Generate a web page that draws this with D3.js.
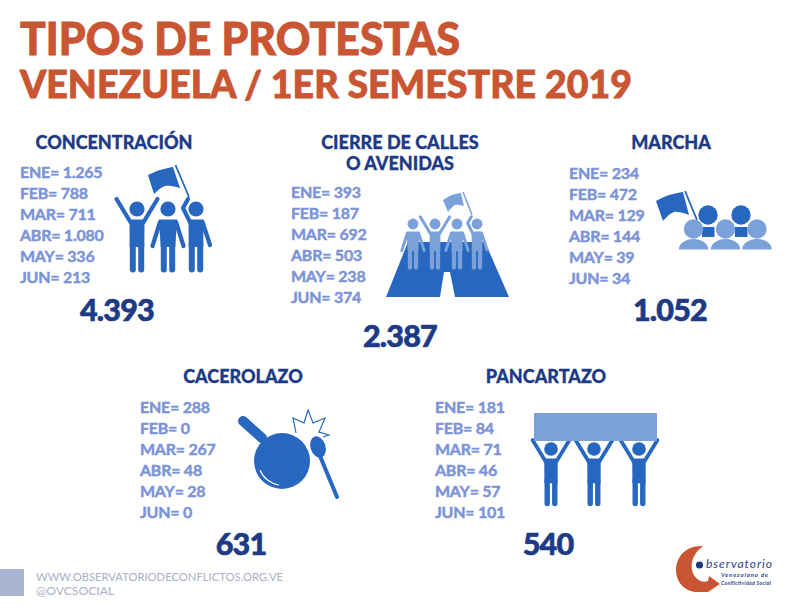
<!DOCTYPE html>
<html>
<head>
<meta charset="utf-8">
<script src="https://cdn.jsdelivr.net/npm/d3@7"></script>
<style>
html, body { margin: 0; padding: 0; background: #fff; }
svg { display: block; }
text { font-family: Lato, "Open Sans", sans-serif; }
</style>
</head>
<body>
<svg id="chart" width="793" height="613"></svg>
<script>
const months = ["ENE", "FEB", "MAR", "ABR", "MAY", "JUN"];
const concentracion = [1265, 788, 711, 1080, 336, 213];
const cierre = [393, 187, 692, 503, 238, 374];
const marcha = [234, 472, 129, 144, 39, 34];
const cacerolazo = [288, 0, 267, 48, 28, 0];
const pancartazo = [181, 84, 71, 46, 57, 101];

const ORANGE = "#c95532", NAVY = "#1c3a86", ROWS = "#7b93d8", DARK = "#2767bf", LIGHT = "#7ba1da";

const svg = d3.select("#chart");
const fmt = d3.formatLocale({ decimal: ",", thousands: ".", grouping: [3], currency: ["", ""] }).format(",d");

function label(x, y, txt, size, fill, anchor = "start", weight = 900, heavy = 0) {
  return svg.append("text")
    .attr("x", x).attr("y", y)
    .attr("text-anchor", anchor)
    .attr("font-size", size)
    .attr("font-weight", weight)
    .attr("fill", fill)
    .attr("stroke", heavy ? fill : "none")
    .attr("stroke-width", heavy)
    .text(txt);
}

// title block
label(20, 55, "TIPOS DE PROTESTAS", 46.5, ORANGE, "start", 900, 0.9).attr("textLength", 440).attr("lengthAdjust", "spacingAndGlyphs");
label(20, 98, "VENEZUELA / 1ER SEMESTRE 2019", 37.5, ORANGE, "start", 900, 0.8).attr("textLength", 612).attr("lengthAdjust", "spacingAndGlyphs");

// one protest type: heading, month rows, total
function panel(title, cx, titleY, values, rowX, rowTop, totalX, totalY) {
  title.forEach((t, i) => label(cx, titleY + i * 21, t, 18, NAVY, "middle", 900, 0.3));
  const y = d3.scalePoint().domain(months).range([rowTop, rowTop + 105]);
  svg.append("g").selectAll("text")
    .data(months)
    .join("text")
    .attr("x", rowX)
    .attr("y", d => y(d))
    .attr("font-size", 16)
    .attr("font-weight", 700)
    .attr("letter-spacing", -0.25)
    .attr("fill", ROWS)
    .attr("stroke", ROWS)
    .attr("stroke-width", 0.45)
    .text((d, i) => `${d}= ${fmt(values[i])}`);
  label(totalX, totalY, fmt(d3.sum(values)), 30.5, NAVY, "middle", 900, 0.6).attr("letter-spacing", -0.8);
}

panel(["CONCENTRACIÓN"], 114, 149, concentracion, 20, 178, 117, 321);
panel(["CIERRE DE CALLES", "O AVENIDAS"], 400, 149, cierre, 291, 198, 400, 347);
panel(["MARCHA"], 671, 149, marcha, 569, 179, 670, 321);
panel(["CACEROLAZO"], 243, 383, cacerolazo, 140, 413, 241, 555);
panel(["PANCARTAZO"], 546, 383, pancartazo, 435, 413, 548, 555);

// icons, drawn in local units around the head of each figure
const line = d3.line();
const wavy = d3.line().curve(d3.curveCatmullRom.alpha(0.5));

function limb(g, pts, w, color) {
  g.append("path").attr("d", line(pts)).attr("fill", "none")
    .attr("stroke", color).attr("stroke-width", w)
    .attr("stroke-linecap", "round").attr("stroke-linejoin", "round");
}

function person(x, y, s, color, arms) {
  const g = svg.append("g").attr("transform", `translate(${x},${y}) scale(${s})`);
  g.append("circle").attr("r", 7.6).attr("fill", color);
  limb(g, [[-4.2, 34], [-4.2, 60.5]], 6, color);
  limb(g, [[4.2, 34], [4.2, 60.5]], 6, color);
  const wide = arms === "down" ? 9 : 7.5;
  g.append("path")
    .attr("d", line([[-wide, 10.5], [wide, 10.5], [7.3, 38], [-7.3, 38]]))
    .attr("fill", color);
  if (arms === "up") {
    limb(g, [[-6, 14], [-20.5, -10]], 4.2, color);
    limb(g, [[6, 14], [20.5, -10]], 4.2, color);
  } else if (arms === "down") {
    limb(g, [[-8, 13], [-15.5, 37]], 4.2, color);
    limb(g, [[8, 13], [15.5, 37]], 4.2, color);
  } else if (arms === "flag") {
    limb(g, [[-6, 13], [-13, -1], [-8, -10]], 4.2, color);
    limb(g, [[6.5, 13], [14, 36]], 4.2, color);
  }
  return g;
}

function polygon(pts, fill) {
  svg.append("path").attr("d", line(pts) + "Z").attr("fill", fill);
}

function flag(top, bottom, pole, color, w = 1.8) {
  svg.append("path")
    .attr("d", wavy(top) + "L" + wavy(bottom).slice(1) + "Z")
    .attr("fill", color);
  svg.append("path").attr("d", line(pole)).attr("stroke", color)
    .attr("stroke-width", w).attr("fill", "none");
}

// concentracion
person(137, 209, 1, DARK, "up");
person(168, 209, 1, DARK, "down");
person(196, 209, 1, DARK, "flag");
flag([[148, 175], [160, 170], [173, 167]], [[180, 188], [165, 186], [154, 194]], [[175.5, 165], [189, 197]], DARK);

// cierre de calles
polygon([[408, 242], [485, 242], [509, 297], [455, 297], [450, 272], [444, 272], [440, 297], [386, 297]], DARK);
person(413, 224, 0.72, LIGHT, "down");
person(435, 224, 0.72, LIGHT, "up");
person(457, 224, 0.72, LIGHT, "down");
person(477, 224, 0.72, LIGHT, "flag");
flag([[443, 200], [452, 195], [461, 193]], [[464, 206], [455, 205], [448, 212]], [[463, 192], [472, 215]], LIGHT, 1.5);

// marcha
flag([[656, 201], [669, 195], [683, 192]], [[689, 215], [674, 212], [663, 221]], [[685, 191], [697, 220]], DARK);
[708, 741].forEach(cx => {
  svg.append("circle").attr("cx", cx).attr("cy", 215).attr("r", 9.7).attr("fill", DARK);
  svg.append("rect").attr("x", cx - 6).attr("y", 227).attr("width", 12.5).attr("height", 10).attr("fill", DARK);
});
[693.5, 725.5, 757].forEach(cx => {
  svg.append("circle").attr("cx", cx).attr("cy", 229).attr("r", 9.7).attr("fill", LIGHT);
  svg.append("path")
    .attr("d", `M${cx - 14.7},249.5 A14.7,10.5 0 0 1 ${cx + 14.7},249.5 Z`)
    .attr("fill", LIGHT);
});

// cacerolazo
limb(svg, [[243, 421], [262, 438]], 10, DARK);
svg.append("circle").attr("cx", 282).attr("cy", 461).attr("r", 28).attr("fill", DARK);
svg.append("path").attr("d", "M260,470 A24,24 0 0 0 279,485")
  .attr("fill", "none").attr("stroke", "#fff").attr("stroke-width", 1.2);
svg.append("ellipse").attr("rx", 7.5).attr("ry", 11)
  .attr("transform", "translate(318,447) rotate(-18)").attr("fill", DARK);
limb(svg, [[320, 456], [337, 497]], 4, DARK);
svg.append("path")
  .attr("d", line([[296, 433], [293, 418], [304, 423], [308, 410], [313, 423], [325, 418], [319, 432], [329, 435], [323, 437]]))
  .attr("fill", "none").attr("stroke", DARK).attr("stroke-width", 1.2);

// pancartazo
[551, 594, 639].forEach(cx => person(cx, 449, 0.9, DARK, "up"));
svg.append("rect").attr("x", 534).attr("y", 413).attr("width", 123).attr("height", 28).attr("fill", LIGHT);

// footer
svg.append("rect").attr("x", 0).attr("y", 569).attr("width", 24).attr("height", 27).attr("fill", "#a7b5d3");
label(36, 581, "WWW.OBSERVATORIODECONFLICTOS.ORG.VE", 12.2, "#a9b1c3", "start", 400)
  .attr("textLength", 247).attr("lengthAdjust", "spacingAndGlyphs");
label(36, 595, "@OVCSOCIAL", 12.2, "#a9b1c3", "start", 400);

// logo
svg.append("path")
  .attr("d", "M703,546 C686,545 676,557 676,570 C676,584 687,593 700,592 L708,592 L720,584 L709,576 L708,581 C702,583 697,580 694,575 C690,568 690,556 703,546 Z")
  .attr("fill", ORANGE);
svg.append("circle").attr("cx", 699.5).attr("cy", 565).attr("r", 3.6).attr("fill", "#1c3a86");
label(706, 568, "bservatorio", 12, "#2b3f8c", "start", 400).attr("font-style", "italic").attr("textLength", 66).attr("font-family", "'Liberation Sans'");
label(721, 577, "Venezolano de", 6, "#2b3f8c", "start", 700).attr("font-style", "italic").attr("textLength", 47).attr("font-family", "'Liberation Sans'");
label(721, 585, "Conflictividad Social", 5, "#2b3f8c", "start", 700).attr("font-style", "italic").attr("textLength", 50).attr("font-family", "'Liberation Sans'");
</script>
</body>
</html>
